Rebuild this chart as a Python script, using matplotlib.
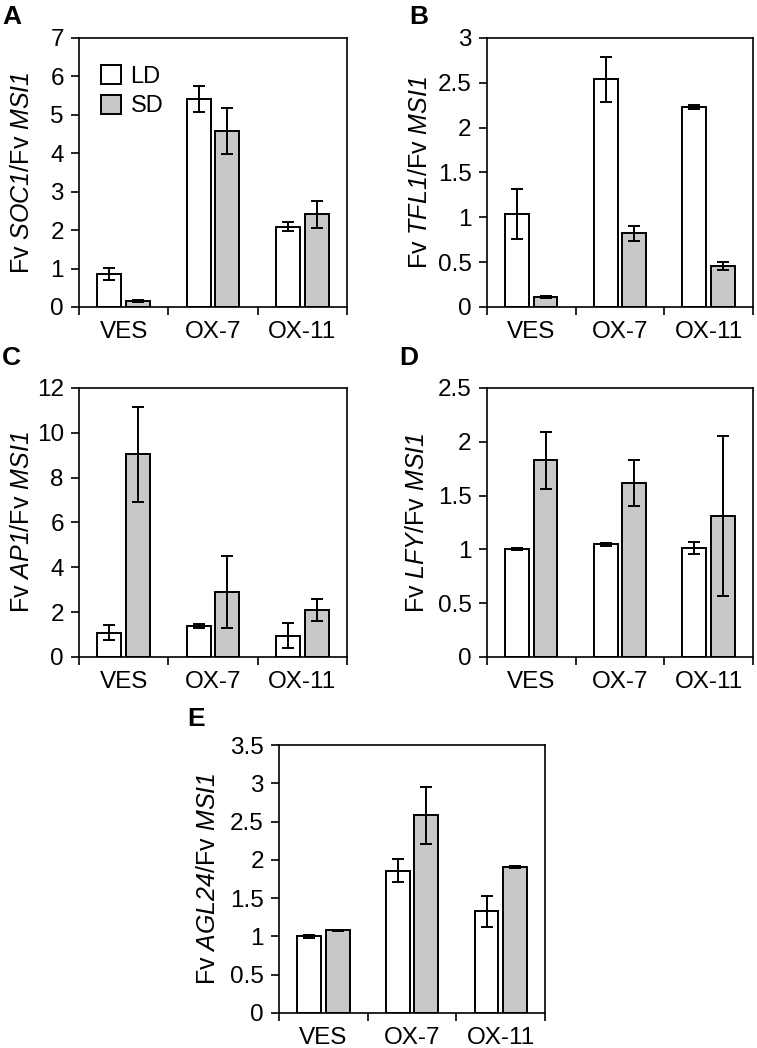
import numpy as np
import matplotlib
matplotlib.use('Agg')
import matplotlib.pyplot as plt
from matplotlib.ticker import FormatStrFormatter, MultipleLocator, FixedLocator, NullFormatter

plt.rcParams['font.family'] = ['Liberation Sans', 'DejaVu Sans']
plt.rcParams['mathtext.fontset'] = 'custom'
plt.rcParams['mathtext.rm'] = 'Liberation Sans'
plt.rcParams['mathtext.it'] = 'Liberation Sans:italic'
# sf slot used for fully italic gene names (digits included)
plt.rcParams['mathtext.sf'] = 'Liberation Sans:italic'

categories = ['VES', 'OX-7', 'OX-11']

# panel A - SOC1
soc1_ld = [0.86, 5.40, 2.09]
soc1_ld_err = [0.16, 0.34, 0.11]
soc1_sd = [0.16, 4.57, 2.41]
soc1_sd_err = [0.02, 0.60, 0.35]

# panel B - TFL1
tfl1_ld = [1.04, 2.54, 2.23]
tfl1_ld_err = [0.28, 0.25, 0.025]
tfl1_sd = [0.11, 0.82, 0.46]
tfl1_sd_err = [0.01, 0.085, 0.045]

# panel C - AP1
ap1_ld = [1.09, 1.40, 0.95]
ap1_ld_err = [0.34, 0.09, 0.57]
ap1_sd = [9.04, 2.90, 2.10]
ap1_sd_err = [2.12, 1.60, 0.50]

# panel D - LFY
lfy_ld = [1.00, 1.047, 1.01]
lfy_ld_err = [0.01, 0.015, 0.056]
lfy_sd = [1.83, 1.62, 1.31]
lfy_sd_err = [0.265, 0.215, 0.74]

# panel E - AGL24
agl24_ld = [1.00, 1.86, 1.326]
agl24_ld_err = [0.015, 0.145, 0.20]
agl24_sd = [1.078, 2.58, 1.904]
agl24_sd_err = [0.01, 0.375, 0.01]

panels = [
    # letter, gene, ld, ld_err, sd, sd_err, ymax, ystep, rect, label_x, letter_xy
    ('A', 'SOC1', soc1_ld, soc1_ld_err, soc1_sd, soc1_sd_err, 7, 1,
     [0.1044, 0.7071, 0.354, 0.2567], -0.168, (0.003, 0.995)),
    ('B', 'TFL1', tfl1_ld, tfl1_ld_err, tfl1_sd, tfl1_sd_err, 3, 0.5,
     [0.6433, 0.7071, 0.3514, 0.2567], -0.207, (0.541, 0.995)),
    ('C', 'AP1', ap1_ld, ap1_ld_err, ap1_sd, ap1_sd_err, 12, 2,
     [0.1044, 0.3731, 0.354, 0.2567], -0.168, (0.003, 0.670)),
    ('D', 'LFY', lfy_ld, lfy_ld_err, lfy_sd, lfy_sd_err, 2.5, 0.5,
     [0.6433, 0.3731, 0.3514, 0.2567], -0.218, (0.528, 0.670)),
    ('E', 'AGL24', agl24_ld, agl24_ld_err, agl24_sd, agl24_sd_err, 3.5, 0.5,
     [0.3686, 0.0334, 0.3514, 0.2557], -0.222, (0.247, 0.325)),
]

fig = plt.figure(figsize=(7.57, 10.48), dpi=100)

x = np.arange(len(categories))
width = 0.27
off = 0.16
gray = '#c8c8c8'

for letter, gene, ld, ld_err, sd, sd_err, ymax, ystep, rect, label_x, lxy in panels:
    ax = fig.add_axes(rect)
    ax.bar(x - off, ld, width, color='white', edgecolor='black', linewidth=1.4,
           label='LD', zorder=2)
    ax.bar(x + off, sd, width, color=gray, edgecolor='black', linewidth=1.4,
           label='SD', zorder=2)
    ax.errorbar(x - off, ld, yerr=ld_err, fmt='none', ecolor='black',
                elinewidth=1.4, capsize=4, capthick=1.4, zorder=3)
    ax.errorbar(x + off, sd, yerr=sd_err, fmt='none', ecolor='black',
                elinewidth=1.4, capsize=4, capthick=1.4, zorder=3)

    ax.set_xlim(-0.5, 2.5)
    ax.set_ylim(0, ymax)
    ax.yaxis.set_major_locator(MultipleLocator(ystep))
    ax.yaxis.set_major_formatter(FormatStrFormatter('%g'))

    # category labels at centres, ticks at group boundaries
    ax.set_xticks(x)
    ax.set_xticklabels(categories)
    ax.tick_params(axis='x', which='major', length=0, pad=10, labelsize=17.5)
    ax.xaxis.set_minor_locator(FixedLocator([-0.5, 0.5, 1.5, 2.5]))
    ax.xaxis.set_minor_formatter(NullFormatter())
    ax.tick_params(axis='x', which='minor', length=6, width=1.2, direction='out')
    ax.tick_params(axis='y', length=6, width=1.2, direction='out', pad=5,
                   labelsize=17.5)

    for s in ax.spines.values():
        s.set_linewidth(1.2)

    ax.set_ylabel('Fv $\\mathsf{%s}$/Fv $\\mathsf{MSI1}$' % gene, fontsize=18)
    ax.yaxis.set_label_coords(label_x, 0.5)

    # panel letter
    fig.text(lxy[0], lxy[1], letter, fontsize=19, fontweight='bold',
             ha='left', va='top')

    if letter == 'A':
        ax.legend(loc='upper left', frameon=False, fontsize=17,
                  handlelength=0.85, handleheight=0.85, handletextpad=0.4,
                  labelspacing=0.3, borderaxespad=0.3,
                  bbox_to_anchor=(0.02, 0.96))

fig.savefig('out.png', dpi=100)
